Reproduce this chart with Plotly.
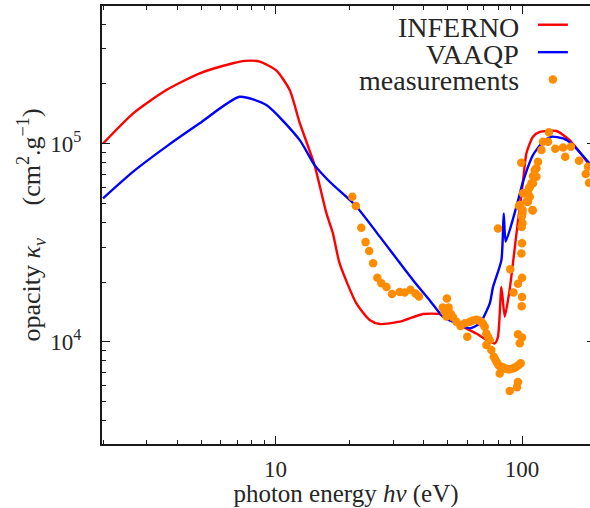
import plotly.graph_objects as go

# ---------------- data ----------------
inferno_x = [2.0, 2.65, 3.61, 4.93, 6.73, 7.5, 8.64, 10.1, 11.43, 12.55, 14.4, 16.1, 17.1, 18.2,
             21.3, 24.1, 26.5, 31.9, 39.7, 46.4, 49.4, 57.6, 65.3, 71.7, 77.5, 79.9, 82.5, 85.1,
             89.2, 94.9, 98.0, 101.0, 104.2, 110.8, 118.0, 137.9, 156.0, 188.0, 200.0]
inferno_y = [1.0e5, 1.42e5, 1.86e5, 2.26e5, 2.54e5, 2.61e5, 2.59e5, 2.33e5, 1.86e5, 1.27e5, 7.8e4,
             4.45e4, 3.53e4, 2.49e4, 1.56e4, 1.287e4, 1.228e4, 1.262e4, 1.38e4, 1.38e4, 1.337e4,
             1.19e4, 1.10e4, 1.02e4, 9.8e3, 1.06e4, 1.89e4, 1.337e4, 1.85e4, 3.5e4, 4.8e4, 6.5e4,
             8.93e4, 1.082e5, 1.143e5, 1.156e5, 1.04e5, 7.8e4, 7.2e4]

vaaqp_x = [2.0, 2.65, 3.61, 4.93, 7.16, 9.19, 12.55, 14.4, 16.6, 21.2, 26.5, 36.1, 42.2, 47.8,
           54.2, 61.4, 67.4, 74.0, 76.3, 82.5, 84.3, 85.9, 94.9, 100.9, 110.8, 121.7, 131.6,
           146.7, 161.0, 188.0, 200.0]
vaaqp_y = [5.29e4, 7.21e4, 9.64e4, 1.264e5, 1.72e5, 1.564e5, 1.04e5, 7.8e4, 6.41e4, 4.84e4,
           3.39e4, 2.05e4, 1.62e4, 1.337e4, 1.238e4, 1.168e4, 1.238e4, 1.56e4, 1.89e4, 2.58e4,
           4.44e4, 3.2e4, 4.8e4, 6.4e4, 8.75e4, 1.02e5, 1.082e5, 1.06e5, 9.83e4, 7.94e4, 7.4e4]

meas_x = [20.5, 21.2, 22.3, 23.2, 24.0, 24.9, 25.9, 26.9, 28.2, 29.7,
          31.9, 33.4, 35.3, 37.0, 38.2, 49.6, 47.7, 50.4, 49.4, 52.5,
          54.2, 56.3, 60.0, 58.6, 61.4, 65.3, 68.4, 70.6, 71.7, 71.7,
          74.0, 75.1, 76.8, 79.2, 81.6, 83.8, 86.7, 89.2, 91.9, 94.9,
          97.0, 98.8, 81.2, 89.2, 95.4, 96.3, 79.9, 89.6, 92.3, 96.3,
          100, 100, 99.7, 96.3, 100, 97.9, 99.4, 100, 99.7, 99.7,
          97.9, 104.2, 100.9, 105.8, 107.5, 110.8, 110.5, 100.6, 97.2, 100.4,
          100.4, 102.6, 106.8, 109.2, 110.8, 112.6, 116.1, 99.3, 119.9, 121.7,
          128.6, 127.5, 136.4, 146.7, 149.7, 157.9, 170.2, 181.3, 187, 185.2,
          114.4, 114.4, 105.8, 110.2, 107.5,
          63.3, 67.0, 69.5, 72.8, 78.0, 80.4, 85.2, 88.0, 93.4, 48.5, 51.5]
meas_y = [5.39e4, 4.84e4, 3.76e4, 3.18e4, 2.87e4, 2.49e4, 2.10e4, 1.97e4, 1.89e4, 1.74e4,
          1.78e4, 1.77e4, 1.83e4, 1.75e4, 1.69e4, 1.65e4, 1.49e4, 1.49e4, 1.34e4, 1.33e4,
          1.26e4, 1.20e4, 1.06e4, 1.24e4, 1.26e4, 1.29e4, 1.26e4, 1.19e4, 1.10e4, 9.63e3,
          1.02e4, 9.08e3, 8.40e3, 7.83e3, 7.50e3, 7.43e3, 7.28e3, 7.26e3, 7.32e3, 7.48e3,
          7.63e3, 7.78e3, 6.91e3, 5.64e3, 5.89e3, 6.26e3, 3.73e4, 2.32e4, 1.77e4, 1.96e4,
          2.10e4, 1.68e4, 1.51e4, 1.09e4, 1.05e4, 9.81e3, 2.79e4, 3.14e4, 3.79e4, 4.28e4,
          4.90e4, 5.09e4, 5.61e4, 5.61e4, 6.01e4, 6.30e4, 4.59e4, 4.62e4, 4.84e4, 3.96e4,
          4.44e4, 5.61e4, 5.94e4, 6.30e4, 6.85e4, 7.35e4, 8.09e4, 7.99e4, 9.27e4, 1.02e5,
          1.14e5, 1.02e5, 9.40e4, 9.55e4, 8.58e4, 9.64e4, 8.19e4, 7.02e4, 6.34e4, 7.64e4,
          7.50e4, 6.80e4, 5.09e4, 4.62e4, 5.39e4,
          1.28e4, 1.28e4, 1.23e4, 1.06e4, 8.1e3, 7.6e3, 7.35e3, 7.27e3, 7.4e3, 1.42e4, 1.38e4]

series_names = ["INFERNO", "VAAQP", "measurements"]
x_major = [10, 100]
x_major_text = ["10", "100"]
x_minor = [2, 3, 4, 5, 6, 7, 8, 9, 20, 30, 40, 50, 60, 70, 80, 90]
y_major = [1e4, 1e5]
y_major_text = ["10<sup>4</sup>", "10<sup>5</sup>"]
y_minor = [4e3, 5e3, 6e3, 7e3, 8e3, 9e3, 2e4, 3e4, 4e4, 5e4, 6e4, 7e4, 8e4, 9e4,
           2e5, 3e5, 4e5, 5e5]

# ---------------- figure ----------------
FONT = "Liberation Serif"
TXT = "#262626"
AX = "#1a1a1a"

fig = go.Figure()
# legend entries show only the symbol; the labels are drawn right-aligned to their left
fig.add_trace(go.Scatter(x=inferno_x, y=inferno_y, mode="lines", name="",
                         hovertemplate=series_names[0] + "<br>%{x} eV, %{y}<extra></extra>",
                         line=dict(color="#ff0000", width=2.4, shape="spline", smoothing=0.6),
                         showlegend=True))
fig.add_trace(go.Scatter(x=vaaqp_x, y=vaaqp_y, mode="lines", name="",
                         hovertemplate=series_names[1] + "<br>%{x} eV, %{y}<extra></extra>",
                         line=dict(color="#0000ff", width=2.4, shape="spline", smoothing=0.6),
                         showlegend=True))
fig.add_trace(go.Scatter(x=meas_x, y=meas_y, mode="markers", name="",
                         hovertemplate=series_names[2] + "<br>%{x} eV, %{y}<extra></extra>",
                         marker=dict(color="#ff8c00", size=8.5, line=dict(width=0)),
                         showlegend=True))
# helper trace for the right-hand tick axis
fig.add_trace(go.Scatter(x=[None], y=[None], yaxis="y2", showlegend=False, hoverinfo="skip"))

xr = [0.2968, 2.2757]
yr = [3.4839, 5.6937]

fig.update_layout(
    width=590, height=508,
    margin=dict(l=102, r=0, t=6, b=64, autoexpand=False),
    paper_bgcolor="white", plot_bgcolor="white",
    font=dict(family=FONT, color=TXT, size=22),
    showlegend=True,
    legend=dict(x=0.883, xanchor="left", y=1.0, yanchor="top",
                bgcolor="rgba(0,0,0,0)", borderwidth=0,
                font=dict(size=18.8, color=TXT),
                traceorder="normal", itemwidth=30),
    xaxis=dict(type="log", range=xr, showgrid=False, zeroline=False, automargin=False,
               showline=True, linecolor=AX, linewidth=2, mirror="ticks",
               ticks="inside", ticklen=8, tickwidth=1.3, tickcolor=AX,
               tickmode="array", tickvals=x_major, ticktext=x_major_text,
               tickfont=dict(size=23, family=FONT, color=TXT), ticklabelstandoff=3,
               minor=dict(ticks="inside", ticklen=4, tickwidth=1.2, tickcolor=AX,
                          tickmode="array", tickvals=x_minor, showgrid=False),
               title=dict(text="photon energy <i>hν</i> (eV)", standoff=0,
                          font=dict(size=25, family=FONT, color=TXT))),
    yaxis=dict(type="log", range=yr, showgrid=False, zeroline=False, automargin=False,
               showline=True, linecolor=AX, linewidth=2, mirror=False,
               ticks="inside", ticklen=8, tickwidth=1.3, tickcolor=AX,
               tickmode="array", tickvals=y_major, ticktext=y_major_text,
               tickfont=dict(size=23, family=FONT, color=TXT), ticklabelstandoff=14,
               minor=dict(ticks="inside", ticklen=4, tickwidth=1.2, tickcolor=AX,
                          tickmode="array", tickvals=y_minor, showgrid=False),
               title=dict(text="opacity <i>κ<sub>ν</sub></i> \u2003(cm<sup>2</sup>.g<sup>−1</sup>)",
                          standoff=2, font=dict(size=26, family=FONT, color=TXT))),
    yaxis2=dict(type="log", range=yr, overlaying="y", side="right", showgrid=False,
                zeroline=False, showline=False, showticklabels=False, automargin=False,
                ticks="inside", ticklen=3, tickwidth=1.3, tickcolor=AX,
                tickmode="array", tickvals=y_major),
)

# legend labels (right-aligned to the left of the symbols)
leg_y = [0.950, 0.889, 0.829]
for name, yy in zip(series_names, leg_y):
    fig.add_annotation(xref="paper", yref="paper", x=0.8586, y=yy, xanchor="right",
                       yanchor="middle", text=name, showarrow=False,
                       font=dict(size=28, family=FONT, color=TXT))

fig.write_html("out.html", config={"displayModeBar": False},
               post_script="document.body.style.margin='0px';document.body.style.overflow='hidden';")
